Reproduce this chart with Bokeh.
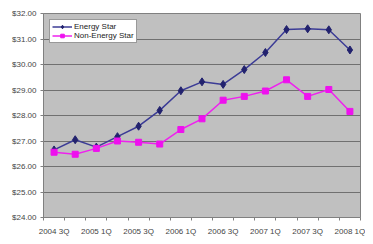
from bokeh.plotting import figure
from bokeh.models import FixedTicker, NumeralTickFormatter, Range1d, Legend
from bokeh.embed import file_html
from bokeh.resources import INLINE

quarters = ["2004 3Q", "2004 4Q", "2005 1Q", "2005 2Q", "2005 3Q", "2005 4Q",
            "2006 1Q", "2006 2Q", "2006 3Q", "2006 4Q", "2007 1Q", "2007 2Q",
            "2007 3Q", "2007 4Q", "2008 1Q"]
energy_star = [26.65, 27.05, 26.76, 27.17, 27.58, 28.2, 28.97, 29.32, 29.22,
               29.8, 30.47, 31.37, 31.4, 31.36, 30.57]
non_energy_star = [26.56, 26.48, 26.71, 27.0, 26.95, 26.88, 27.45, 27.87, 28.6,
                   28.75, 28.96, 29.4, 28.75, 29.02, 28.16]
y_ticks = [24, 25, 26, 27, 28, 29, 30, 31, 32]

x = list(range(len(quarters)))

p = figure(width=365, height=240, output_backend="svg", toolbar_location=None,
           x_range=Range1d(-0.5, len(quarters) - 0.5), y_range=Range1d(24, 32),
           min_border_left=43, min_border_right=5, min_border_top=13, min_border_bottom=23)
p.background_fill_color = "#c0c0c0"
p.border_fill_color = "white"
p.outline_line_color = "#808080"
p.outline_line_width = 1

p.xgrid.grid_line_color = None
p.ygrid.grid_line_color = "#707070"
p.ygrid.grid_line_width = 1

label_idx = list(range(0, len(quarters), 2))
p.xaxis.ticker = FixedTicker(ticks=label_idx, minor_ticks=[i - 0.5 for i in range(len(quarters) + 1)])
p.xaxis.major_label_overrides = {i: quarters[i] for i in label_idx}
p.xaxis.major_tick_line_color = None
p.xaxis.minor_tick_in = 0
p.xaxis.minor_tick_out = 3
p.xaxis.minor_tick_line_color = "#808080"
p.xaxis.axis_line_color = "#808080"
p.xaxis.major_label_standoff = 3

p.yaxis.ticker = FixedTicker(ticks=y_ticks, minor_ticks=[])
p.yaxis.formatter = NumeralTickFormatter(format="$0.00")
p.yaxis.major_tick_in = 0
p.yaxis.major_tick_out = 3
p.yaxis.major_tick_line_color = "#808080"
p.yaxis.axis_line_color = "#808080"
p.yaxis.major_label_standoff = 4

for ax in (p.xaxis, p.yaxis):
    ax.major_label_text_font = "Liberation Sans"
    ax.major_label_text_font_size = "8px"
    ax.major_label_text_color = "#444444"

r1 = p.line(x, energy_star, line_color="#3c3c96", line_width=1.5)
s1 = p.scatter(x, energy_star, marker="diamond", size=8, fill_color="#22226e", line_color="#22226e")
r2 = p.line(x, non_energy_star, line_color="#ee22ee", line_width=1.5)
s2 = p.scatter(x, non_energy_star, marker="square", size=6, fill_color="#ee11ee", line_color="#ee11ee")

legend = Legend(items=[("Energy Star", [r1, s1]), ("Non-Energy Star", [r2, s2])],
                location="top_left")
legend.label_text_font = "Liberation Sans"
legend.label_text_font_size = "8px"
legend.label_text_color = "#222222"
legend.background_fill_color = "white"
legend.background_fill_alpha = 1
legend.border_line_color = "#333333"
legend.border_line_width = 1
legend.padding = 2
legend.spacing = 0
legend.margin = 6
legend.label_height = 9
legend.glyph_height = 9
legend.glyph_width = 20
legend.label_standoff = 2
legend.label_text_line_height = 1.0
p.add_layout(legend)

open("out.html", "w").write(file_html(p, INLINE))
